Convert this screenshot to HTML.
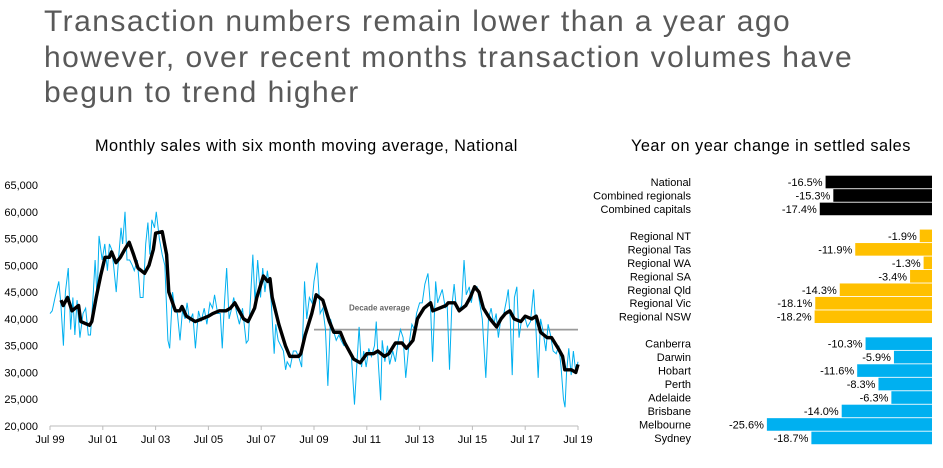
<!DOCTYPE html>
<html><head><meta charset="utf-8"><style>
body{margin:0;width:943px;height:468px;overflow:hidden;background:#fff;font-family:"Liberation Sans",sans-serif;}
#title{position:absolute;left:44px;top:4px;font-size:30px;letter-spacing:1.45px;line-height:35.5px;color:#595959;font-weight:normal;margin:0;white-space:nowrap}
.sub{position:absolute;font-size:16.3px;letter-spacing:0.5px;color:#000;white-space:nowrap}
svg{position:absolute;left:0;top:0}
</style></head><body>
<h1 id="title">Transaction numbers remain lower than a year ago<br>however, over recent months transaction volumes have<br>begun to trend higher</h1>
<div class="sub" style="left:95px;top:137px">Monthly sales with six month moving average, National</div>
<div class="sub" style="left:631px;top:137px">Year on year change in settled sales</div>
<svg id="c" width="943" height="468"></svg>
<script>
const yTicks=[20000,25000,30000,35000,40000,45000,50000,55000,60000,65000];
const xTickLabels=["Jul 99","Jul 01","Jul 03","Jul 05","Jul 07","Jul 09","Jul 11","Jul 13","Jul 15","Jul 17","Jul 19"];
const rawMonths=[0,1,2.3,4,4.9,6.1,7,8.3,9.4,10.4,11.3,12.3,13.6,15,16.2,17.4,18.4,19.7,20.5,21.4,22.3,23.7,24.9,26.1,27,28,28.9,30.1,31.3,32.3,33,34.1,35,36.2,37.4,38.3,39.7,41,42.3,43.5,44.5,45.4,46.3,47.5,48.3,49.7,51,52.2,53.6,54.4,55.7,56.7,57.9,59.1,60.2,61.4,62.3,63.5,64.9,66.1,67.5,68.7,70.1,71.3,72.7,73.9,74.8,76.2,77.4,78.3,79.3,80.3,81.4,82.6,83.5,84.9,86.1,87.5,89.2,90.1,91.3,92.2,93.2,94.4,95.7,96.7,97.7,98.8,100.5,101.9,102.6,103.7,104.9,106.1,107.1,107.8,109.2,110.6,111.8,113,114.4,115.7,116.7,117.9,119.1,120,121.4,122.8,124,125.2,126.3,127.5,128.7,130.1,131.3,132.3,133.6,134.4,135.7,137,138.4,139.7,140.5,141.6,142.6,143.7,144.9,146.1,147.5,148.3,149.2,150.3,151,152.2,153.4,154.4,155.8,157,158.3,159.3,160.5,161.7,163.1,164.5,165.7,166.6,168,169.2,170.4,171.8,173,173.9,175.3,176.2,177,178.3,179.7,180.5,181.6,182.6,183.7,184.7,185.7,187.1,188.2,189.2,190.6,191.5,192.7,194.1,195.3,196.5,198.1,199.3,200.5,201.7,202.8,203.8,204.9,206.3,207.5,208.3,209.2,210.1,211.1,212.2,213.2,214.4,215.7,217,218.4,219.8,220.9,221.9,223,224,225.4,226.4,227.5,228.7,230.1,231.3,232.3,233.4,234.1,234.8,235.8,236.9,237.9,239,240];
const rawSales=[41,41.5,44,47,43,35,45,49.5,38,44,37,43.5,36.5,41,42,37,37,45,51,44,55.5,51,54,49,54,53,50,45,52,57,54,60,51,51,50,49,51,44,44,54,58,52,58.5,57,60,55,52,50,36,34.5,45,42,41,36,41.5,40,43,39.5,41,34.5,41.5,39.5,42,39,43,42,44.5,41,41,34.5,43,49.5,40,42,44,41,39,42,35.5,36,45,52,43,51,44,49.5,45,49,43.5,33.5,39,36,35,34,30.5,32,31,34,34,33,31,47,40,44,43,47,50.5,41,42,38,27.5,40,38,36,37,36,35,35,34.5,33,24,33,38.5,31,34,31,34.5,33,35,39.5,32,24.8,36,32,35,31.5,34,32,36,38,36.5,29,35,39,38,41,43,43,46.5,48.5,42,32,47,43,44,45.5,42,43,30.5,42,46.5,42,41.5,42.5,51,44.5,46,43,46,46,43,40,29,40,42,39,41,36.5,40,41,43.5,45.5,40,29.5,44,46,36.5,40,40.5,38.5,39.5,45.5,38,29,40,38,34,39,37,34,33.5,35,31,25,23.5,30,34.5,29.5,34,30,32].map(v=>v*1000);
const maMonths=[5,6,8,10,13,14,18,19,21,23,25,27,28,30,32,34,36,38,40,43,45,47,48,51,53,54,57,59,60,62,66,69,72,74,77,80,82,84,86,88,90,93,94,97,99,100,101,104,107,109,113,114,116,119,121,124,127,129,132,134,138,141,144,147,149,152,154,157,160,162,165,167,170,173,174,177,180,181,184,186,189,191,193,195,197,200,203,205,207,209,211,214,216,219,221,223,226,228,231,233,234,237,239,240];
const maSales=[43.5,42.5,44,41.5,42.5,39.5,38.8,39.5,44,48,51.5,51.5,52.5,50.5,51.5,53,54.3,52,49.5,48.5,50,53,56,56.3,52,45,41.5,41.5,42.3,40.5,39.5,40,40.5,41,41.5,41.5,42,43,41.5,40,39.5,42,44,48,47,47.5,44,39,35,33,33,33.5,37,41,44.5,43.5,39.5,37.5,37.5,35.5,32.5,31.8,33.5,33.5,34,33,33.5,35.5,35.5,34.5,36,40,42,43,41.5,42,42.5,43,43,41.5,42.5,44,46,45,42,40,38.5,40,41,41.5,40,39.5,40.5,40,40.5,37.5,36.5,36.5,34.5,33,30.5,30.5,30,31.5].map(v=>v*1000);
const decadeAvg=38000;
const regions=["National","Combined regionals","Combined capitals","","Regional NT","Regional Tas","Regional WA","Regional SA","Regional Qld","Regional Vic","Regional NSW","","Canberra","Darwin","Hobart","Perth","Adelaide","Brisbane","Melbourne","Sydney"];
const yoy=[-16.5,-15.3,-17.4,null,-1.9,-11.9,-1.3,-3.4,-14.3,-18.1,-18.2,null,-10.3,-5.9,-11.6,-8.3,-6.3,-14.0,-25.6,-18.7];
const groupColor=["#000000","#000000","#000000",null,"#FFC000","#FFC000","#FFC000","#FFC000","#FFC000","#FFC000","#FFC000",null,"#00B0F0","#00B0F0","#00B0F0","#00B0F0","#00B0F0","#00B0F0","#00B0F0","#00B0F0"];

const svg=document.getElementById('c');const NS="http://www.w3.org/2000/svg";
function mk(t,a,p){const e=document.createElementNS(NS,t);for(const k in a)e.setAttribute(k,a[k]);(p||svg).appendChild(e);return e;}
const X=m=>50+m*(528/240);
const Y=v=>426-(v-20000)*(241/45000);
yTicks.forEach(v=>{const t=mk('text',{x:38,y:Y(v)+4,'text-anchor':'end','font-size':11,fill:'#000'});t.textContent=v.toLocaleString('en-US');

});
const ax=mk('line',{x1:X(0),x2:X(240),y1:426,y2:426,stroke:'#bbb','stroke-width':1});


xTickLabels.forEach((s,i)=>{const m=i*24;
const tk=mk('line',{x1:X(m),x2:X(m),y1:426,y2:430,stroke:'#bbb'});


const t=mk('text',{x:X(m),y:443,'text-anchor':'middle','font-size':11,fill:'#000'});t.textContent=s;

});
const dl=mk('line',{x1:X(120),x2:X(240),y1:Y(decadeAvg),y2:Y(decadeAvg),stroke:'#9a9a9a','stroke-width':1.8});


const dt=mk('text',{x:X(120)+35,y:Y(decadeAvg)-19,'font-size':8,'font-weight':'bold',fill:'#666'});dt.textContent='Decade average';


const raw=mk('polyline',{points:rawMonths.map((m,i)=>X(m)+','+Y(rawSales[i])).join(' '),fill:'none',stroke:'#00B0F0','stroke-width':1});


const ma=mk('polyline',{points:maMonths.map((m,i)=>X(m)+','+Y(maSales[i])).join(' '),fill:'none',stroke:'#000','stroke-width':3.4,'stroke-linejoin':'round'});


const Z=932, PX=6.45, R0=182, RP=13.47;
regions.forEach((r,i)=>{if(yoy[i]===null)return;const cy=R0+i*RP;
const lab=mk('text',{x:691,y:cy+4,'text-anchor':'end','font-size':11,fill:'#000'});lab.textContent=r;


const w=-yoy[i]*PX;
const b=mk('rect',{x:Z-w,y:cy-6.3,width:w,height:12.6,fill:groupColor[i]});


const vt=mk('text',{x:Z-w-3,y:cy+4,'text-anchor':'end','font-size':11,fill:'#000'});vt.textContent=yoy[i].toFixed(1)+'%';

});
</script>
</body></html>
